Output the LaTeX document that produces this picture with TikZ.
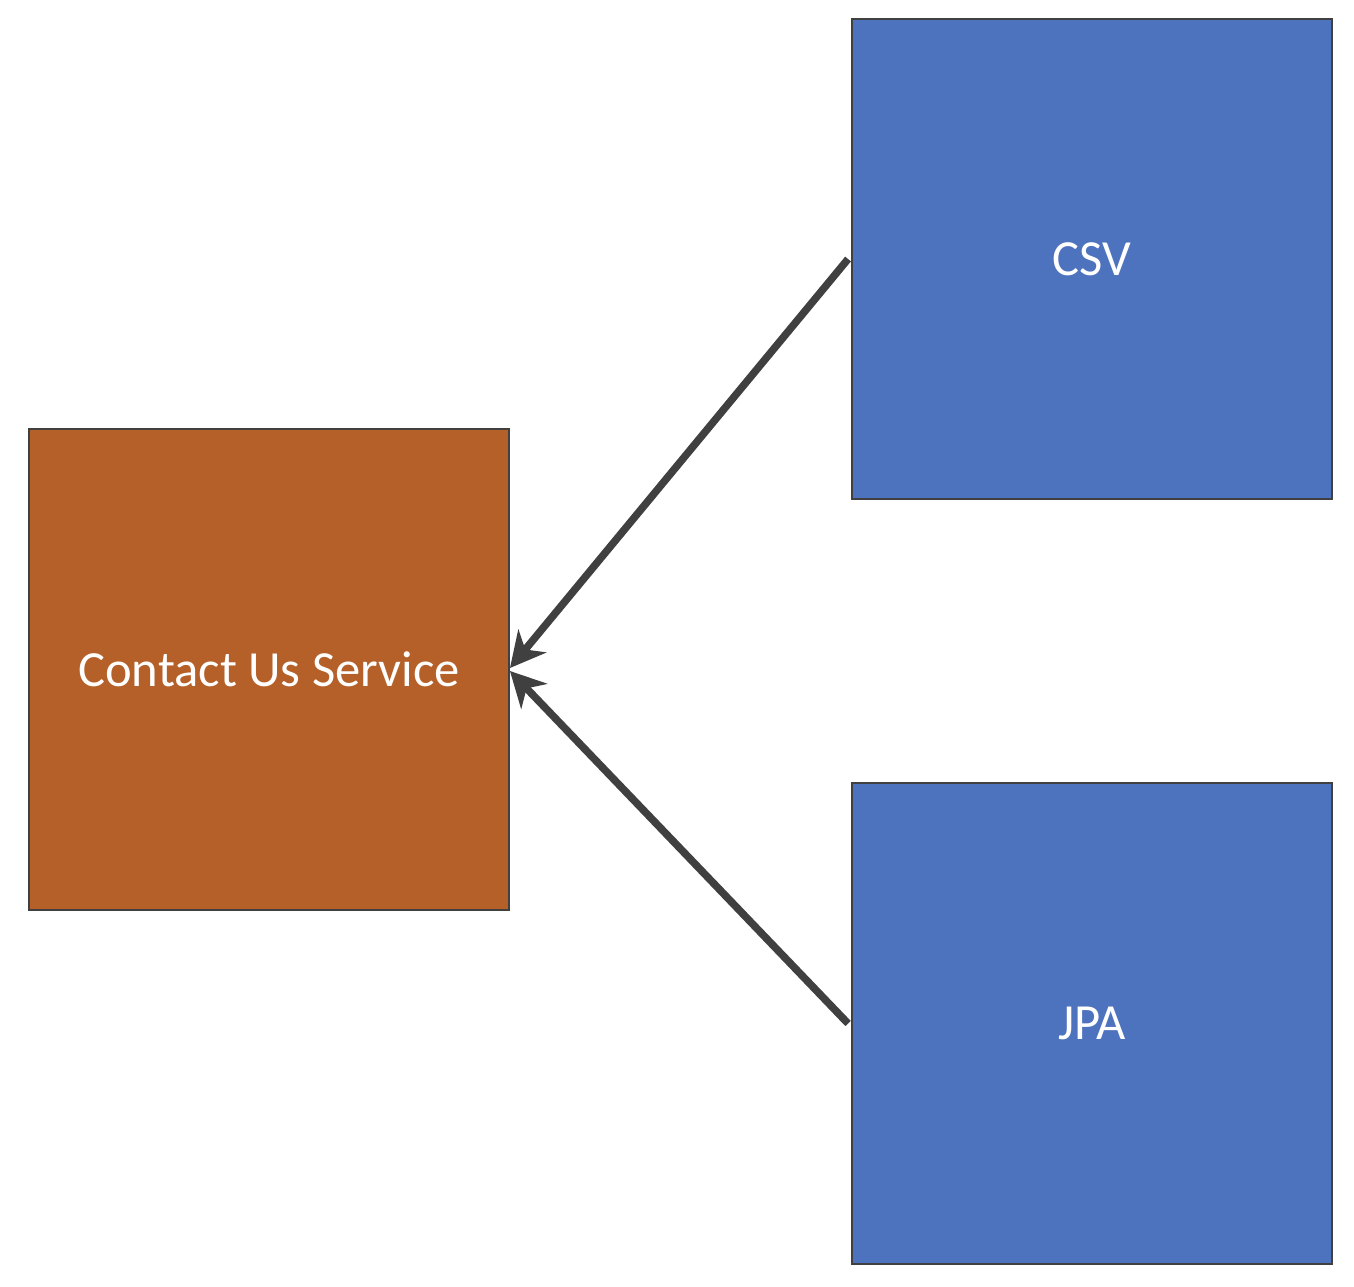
\documentclass[tikz,border=0pt]{standalone}
\usepackage{fontspec}
\setmainfont{Carlito}
\usetikzlibrary{arrows.meta}
\definecolor{dienstbraun}{RGB}{181,96,41}
\definecolor{quellblau}{RGB}{78,115,190}
\definecolor{liniengrau}{RGB}{64,64,64}
\tikzstyle{kasten}=[draw=liniengrau,line width=0.04cm,inner sep=0pt,minimum width=9.6cm,minimum height=9.62cm,text=white,font=\fontsize{28.8pt}{34pt}\selectfont]
\tikzstyle{pfeil}=[draw=liniengrau,line width=0.15cm,-{Stealth[length=0.7cm,width=0.72cm,inset=0.22cm]}]

\begin{document}
\begin{tikzpicture}[x=0.02cm,y=-0.02cm]
			% Rahmen festlegen
			\useasboundingbox (0,0) rectangle (1354,1286);
			% Kästen zeichnen
			\node[kasten,fill=dienstbraun] (dienst) at (269,669.5) {Contact Us Service};
			\node[kasten,fill=quellblau] (csv) at (1092,259) {CSV};
			\node[kasten,fill=quellblau] (jpa) at (1092,1023.5) {JPA};
			% Pfeile zeichnen
			\draw[pfeil] ([xshift=-0.06cm]csv.west) -- ([yshift=0.03cm]dienst.east);
			\draw[pfeil] ([xshift=-0.06cm]jpa.west) -- ([yshift=-0.03cm]dienst.east);
		\end{tikzpicture}
\end{document}
